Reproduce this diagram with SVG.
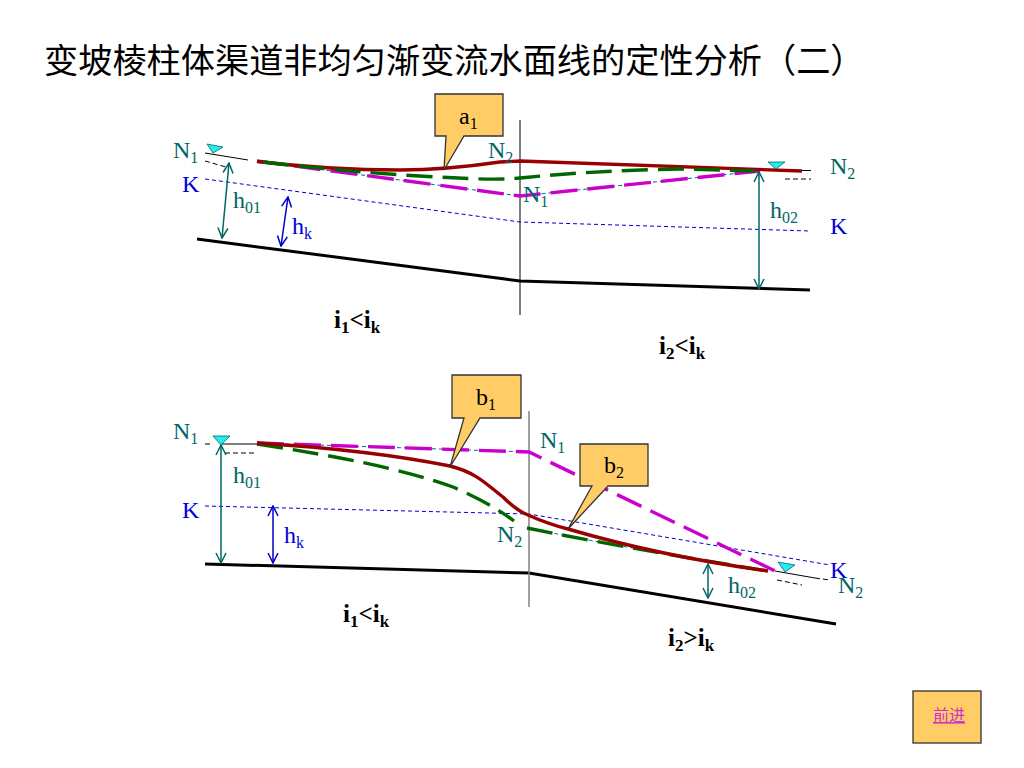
<svg xmlns="http://www.w3.org/2000/svg" width="1024" height="768" viewBox="0 0 1024 768">
<style>
text{font-family:"Liberation Serif","Noto Sans CJK SC",serif}
.t{fill:#006666;font-size:24px}
.b{fill:#0000dd;font-size:24px}
.d{fill:#000;font-size:24px}
.i{fill:#000;font-size:25px;font-weight:bold}
.s{font-size:16px}
.i .s{font-size:17px}
.callout{fill:#ffcc66;stroke:#333;stroke-width:1.3}
.tri{fill:#22eeee;stroke:#006666;stroke-width:.8}
.red{fill:none;stroke:#990000;stroke-width:3.4}
.grn{fill:none;stroke:#006600;stroke-width:3.4;stroke-dasharray:26 10}
.mag{fill:none;stroke:#cc00cc;stroke-width:3.4;stroke-dasharray:27 10}
.th{fill:none;stroke:#006699;stroke-width:1;stroke-dasharray:4 3}
.gnd{fill:none;stroke:#000;stroke-width:3}
.kl{fill:none;stroke:#0000cc;stroke-width:1;stroke-dasharray:4 3}
.bl{fill:none;stroke:#000;stroke-width:1}
.bd{fill:none;stroke:#000;stroke-width:1;stroke-dasharray:5 3}
.ta{fill:none;stroke:#006666;stroke-width:1.5;marker-start:url(#ot);marker-end:url(#ot)}
.ba{fill:none;stroke:#0000cc;stroke-width:1.5;marker-start:url(#ob);marker-end:url(#ob)}
</style>
<defs>
<marker id="ot" viewBox="0 0 12 12" refX="11" refY="6" markerWidth="12" markerHeight="12" markerUnits="userSpaceOnUse" orient="auto-start-reverse"><path d="M1 1L11 6L1 11" fill="none" stroke="#006666" stroke-width="1.5"/></marker>
<marker id="ob" viewBox="0 0 12 12" refX="11" refY="6" markerWidth="12" markerHeight="12" markerUnits="userSpaceOnUse" orient="auto-start-reverse"><path d="M1 1L11 6L1 11" fill="none" stroke="#0000cc" stroke-width="1.5"/></marker>
</defs>
<rect width="1024" height="768" fill="#fff"/>
<text id="title" x="44" y="73" font-size="34.2" fill="#000" style="font-family:'Noto Sans CJK SC',sans-serif">变坡棱柱体渠道非均匀渐变流水面线的定性分析（二）</text>

<g id="connectors">
<!-- top -->
<path class="gnd" d="M197 239L505 279L520 281L810 290"/>
<path class="kl" d="M205 179L520 222L810 231"/>
<path class="bl" d="M205 153L248 160"/>
<path class="bd" d="M205 161L226 167"/>
<path class="bl" d="M800 170.500L811 170.500"/>
<path class="bd" d="M785 179L811 179"/>
<path class="bl" d="M520 120V315"/>
<path class="th" d="M257 161L505 194L520 196L760 171"/>
<path class="mag" d="M257 161L505 194L520 196L760 171"/>
<path class="red" d="M257 161.500Q330 170 400 170Q445 170 500 162L520 161L802 171"/>
<path class="grn" d="M263 162C320 169 400 176 470 178.500Q500 180 520 178C570 173 620 170 680 169L755 171"/>
<path class="ta" d="M229 163L222 238"/>
<path class="ba" d="M288 197L281 246"/>
<path class="ta" d="M759 172V289"/>
<!-- bottom -->
<path class="gnd" d="M205 564L529 573L836 624"/>
<path class="kl" d="M205 506L529 514L830 565"/>
<path class="bl" d="M222 444L257 444"/>
<path class="bd" d="M205 444H213"/>
<path class="bd" d="M225 453L257 453"/>
<path class="bl" d="M775 571L815 578"/>
<path class="bd" d="M815 578L830 580"/>
<path class="bd" d="M777 580L802 585"/>
<path d="M529 411V607" fill="none" stroke="#808080" stroke-width="1.5"/>
<path class="th" d="M257 443L529 452"/>
<path class="mag" d="M257 443L529 452L775 571"/>
<path class="th" d="M527 528Q620 547 768 571"/>
<path class="grn" d="M257 444C330 455 400 468 453 487Q490 503 514 521M527 528Q620 547 768 571"/>
<path class="red" d="M257 443Q370 450 450 466C478 473 488 486 503 497C512 506 520 512 528 515Q548 524 568 529Q660 556 768 571"/>
<path class="ta" d="M221 445V563"/>
<path class="ba" d="M273 506V563"/>
<path class="ta" d="M708 564V598"/>
</g>

<g id="marks">
<path class="tri" d="M207 144L223 147L213 153Z"/>
<path class="tri" d="M768 162H785L776 169Z"/>
<path class="tri" d="M213 436H230L221 445Z"/>
<path class="tri" d="M778 562L795 565L785 572Z"/>
</g>

<g id="a1"><path class="callout" d="M435 94H503V136H464L444 170L446 136H435Z"/><text class="d" x="459" y="124">a<tspan class="s" dy="5">1</tspan></text></g>
<g id="b1"><path class="callout" d="M452 375H521V418H480L450 467L464 418H452Z"/><text class="d" x="476" y="405">b<tspan class="s" dy="5">1</tspan></text></g>
<g id="b2"><path class="callout" d="M580 444H648V486H608L568 529L592 486H580Z"/><text class="d" x="604" y="473">b<tspan class="s" dy="5">2</tspan></text></g>

<g id="labels">
<text class="t" x="173" y="158">N<tspan class="s" dy="5">1</tspan></text>
<text class="b" x="182" y="192">K</text>
<text class="t" x="233" y="208">h<tspan class="s" dy="5">01</tspan></text>
<text class="b" x="292" y="234">h<tspan class="s" dy="5">k</tspan></text>
<text class="t" x="488" y="158">N<tspan class="s" dy="5">2</tspan></text>
<text class="t" x="523" y="202">N<tspan class="s" dy="5">1</tspan></text>
<text class="t" x="830" y="174">N<tspan class="s" dy="5">2</tspan></text>
<text class="t" x="770" y="218">h<tspan class="s" dy="5">02</tspan></text>
<text class="b" x="830" y="234">K</text>
<text class="i" x="334" y="328">i<tspan class="s" dy="5">1</tspan><tspan dy="-5">&lt;i</tspan><tspan class="s" dy="5">k</tspan></text>
<text class="i" x="659" y="354">i<tspan class="s" dy="5">2</tspan><tspan dy="-5">&lt;i</tspan><tspan class="s" dy="5">k</tspan></text>
<text class="t" x="173" y="439">N<tspan class="s" dy="5">1</tspan></text>
<text class="b" x="182" y="518">K</text>
<text class="t" x="233" y="483">h<tspan class="s" dy="5">01</tspan></text>
<text class="b" x="284" y="543">h<tspan class="s" dy="5">k</tspan></text>
<text class="t" x="497" y="542">N<tspan class="s" dy="5">2</tspan></text>
<text class="t" x="540" y="448">N<tspan class="s" dy="5">1</tspan></text>
<text class="t" x="728" y="593">h<tspan class="s" dy="5">02</tspan></text>
<text class="b" x="830" y="578">K</text>
<text class="t" x="838" y="593">N<tspan class="s" dy="5">2</tspan></text>
<text class="i" x="343" y="622">i<tspan class="s" dy="5">1</tspan><tspan dy="-5">&lt;i</tspan><tspan class="s" dy="5">k</tspan></text>
<text class="i" x="668" y="646">i<tspan class="s" dy="5">2</tspan><tspan dy="-5">&gt;i</tspan><tspan class="s" dy="5">k</tspan></text>
</g>

<g id="next"><rect x="913" y="691" width="68" height="52" fill="#ffcc66" stroke="#333" stroke-width="1.3"/><text x="949" y="721" text-anchor="middle" font-size="16" fill="#cc33cc" text-decoration="underline" style="font-family:'Noto Sans CJK SC',sans-serif">前进</text></g>
</svg>
